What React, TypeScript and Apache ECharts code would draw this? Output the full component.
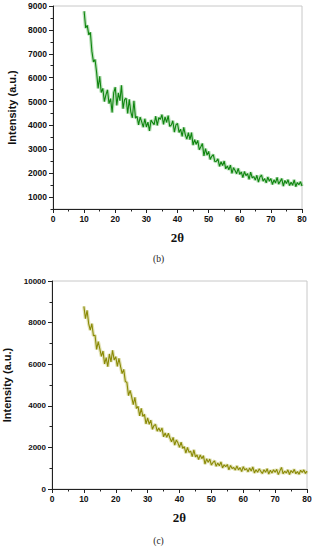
import React, { useEffect, useRef } from "react";
import * as echarts from "echarts";

// sampling grid: 2θ from 10 to 80 in 0.5° steps
const X_START = 10;
const X_STEP = 0.5;

// (b) intensity values, 2θ = 10 ... 80 step 0.5
const intensityB = [
  8780, 8080, 8190, 7790, 7900, 7100, 6660, 6760, 6230, 5550,
  6060, 5380, 5550, 5000, 5280, 5490, 4910, 5120, 4540, 5360,
  5600, 4840, 5360, 5040, 5680, 4700, 5080, 5140, 4500, 5090,
  4570, 4320, 5030, 4305, 4375, 4025, 4350, 4150, 3925, 4280,
  3935, 4140, 3770, 4225, 4115, 4030, 4385, 4000, 4325, 4255,
  4450, 4045, 4355, 4125, 4410, 3960, 4010, 4195, 3720, 4020,
  4080, 3705, 3840, 3540, 3915, 3615, 3425, 3700, 3400, 3700,
  3175, 3405, 3210, 3375, 2980, 3105, 3240, 2720, 3025, 2755,
  2910, 2574, 2704, 2773, 2485, 2503, 2599, 2287, 2478, 2319,
  2510, 2181, 2304, 2145, 2336, 1990, 2232, 2110, 1978, 2203,
  1952, 2051, 1817, 2069, 1896, 1985, 1744, 2040, 1809, 1857,
  1711, 1912, 1630, 1848, 1923, 1665, 1774, 1594, 1839, 1666,
  1775, 1527, 1721, 1592, 1820, 1543, 1657, 1771, 1460, 1693,
  1569, 1729, 1481, 1624, 1495, 1723, 1434, 1611, 1516, 1642,
  1462,
];

// (c) intensity values, 2θ = 10 ... 80 step 0.5
const intensityC = [
  8780, 8194, 8588, 7954, 7638, 7950, 7366, 7390, 6710, 7084,
  6732, 6380, 6636, 6012, 6316, 5876, 6492, 6106, 6670, 6202,
  6364, 5892, 6284, 5900, 5548, 5752, 5176, 5122, 4490, 4738,
  4426, 4054, 4410, 3870, 3974, 3518, 3874, 3494, 3590, 3126,
  3418, 3110, 3310, 2870, 3050, 3100, 2780, 2930, 2760, 2940,
  2510, 2690, 2480, 2680, 2450, 2270, 2480, 2110, 2360, 2220,
  2000, 2250, 1950, 2040, 1730, 2000, 1760, 1820, 1560, 1880,
  1540, 1640, 1420, 1640, 1460, 1600, 1200, 1450, 1280, 1440,
  1150, 1278, 1356, 1088, 1250, 1114, 1300, 1014, 1162, 1072,
  1178, 920, 1134, 988, 1034, 912, 1112, 920, 1026, 834,
  1076, 917, 982, 823, 1014, 869, 1060, 770, 928, 806,
  968, 851, 748, 925, 808, 974, 719, 899, 770, 922,
  808, 946, 692, 872, 1040, 730, 854, 769, 922, 697,
  892, 779, 946, 736, 834, 708, 904, 792, 918, 750,
  862,
];

const majorTicksB = [1000, 2000, 3000, 4000, 5000, 6000, 7000, 8000, 9000];
const captions = ["(b)", "(c)"];
const xName = "2θ";
const yName = "Intensity (a.u.)";

const toPairs = (arr: number[]) => arr.map((v, i) => [X_START + i * X_STEP, v]);

export default function App() {
  const ref = useRef<HTMLDivElement>(null);
  useEffect(() => {
    if (!ref.current) return;
    const chart = echarts.init(ref.current, undefined, { renderer: "svg" });
    const labelFont = {
      fontFamily: "Liberation Sans, Arial, sans-serif",
      fontWeight: "bold" as const,
      fontSize: 8.5,
      color: "#111",
    };
    const axisLine = { show: true, lineStyle: { color: "#222", width: 1 } };
    const xAxisBase = (gridIndex: number) => ({
      type: "value" as const,
      gridIndex,
      min: 0,
      max: 80,
      interval: 10,
      splitLine: { show: false },
      axisLine,
      axisTick: { show: true, length: 4, lineStyle: { color: "#222" } },
      minorTick: { show: true, splitNumber: 2, length: 2.5, lineStyle: { color: "#222" } },
      axisLabel: { ...labelFont, margin: 5 },
      name: xName,
      nameLocation: "middle" as const,
      nameGap: 22,
      nameTextStyle: {
        fontFamily: "Liberation Serif, Times New Roman, serif",
        fontWeight: "bold" as const,
        fontSize: 13,
        color: "#111",
      },
    });
    const yNameStyle = {
      fontFamily: "Liberation Sans, Arial, sans-serif",
      fontWeight: "bold" as const,
      fontSize: 11,
      color: "#111",
    };
    const lineSeries = (data: number[], xi: number, yi: number, color: string, halo: string) => [
      {
        type: "line",
        xAxisIndex: xi,
        yAxisIndex: yi,
        data: toPairs(data),
        showSymbol: false,
        silent: true,
        lineStyle: { color: halo, width: 3.5, opacity: 0.45 },
        itemStyle: { color: halo },
      },
      {
        type: "line",
        xAxisIndex: xi,
        yAxisIndex: yi,
        data: toPairs(data),
        showSymbol: false,
        lineStyle: { color, width: 1.1 },
        itemStyle: { color },
      },
    ];
    const caption = (text: string, x: number, y: number) => ({
      type: "text",
      x,
      y,
      style: {
        text,
        fontFamily: "Liberation Serif, Times New Roman, serif",
        fontSize: 9.5,
        fill: "#222",
        textAlign: "center",
        textVerticalAlign: "middle",
      },
    });
    chart.setOption({
      animation: false,
      grid: [
        {
          left: 53, top: 6, width: 249, height: 203,
          show: true, borderColor: "#c8c8c8", borderWidth: 1,
          containLabel: false, outerBoundsMode: "none",
        },
        {
          left: 52, top: 281, width: 255, height: 208,
          show: true, borderColor: "#c8c8c8", borderWidth: 1,
          containLabel: false, outerBoundsMode: "none",
        },
      ],
      xAxis: [xAxisBase(0), xAxisBase(1)],
      yAxis: [
        {
          type: "value",
          gridIndex: 0,
          min: 500,
          max: 9000,
          interval: 500,
          splitLine: { show: false },
          axisLine,
          axisTick: { show: true, length: 2.5, lineStyle: { color: "#222" } },
          axisLabel: {
            ...labelFont,
            margin: 6,
            formatter: (v: number) => (v % 1000 === 0 ? String(v) : ""),
          },
          name: yName,
          nameLocation: "middle",
          nameGap: 36,
          nameTextStyle: yNameStyle,
        },
        {
          type: "value",
          gridIndex: 0,
          position: "left",
          min: 500,
          max: 9000,
          interval: 500,
          splitLine: { show: false },
          axisLine: { show: false },
          axisTick: { show: true, length: 4, customValues: majorTicksB, lineStyle: { color: "#222" } },
          axisLabel: { show: false },
        },
        {
          type: "value",
          gridIndex: 1,
          min: 0,
          max: 10000,
          interval: 2000,
          splitLine: { show: false },
          axisLine,
          axisTick: { show: true, length: 4, lineStyle: { color: "#222" } },
          minorTick: { show: true, splitNumber: 2, length: 2.5, lineStyle: { color: "#222" } },
          axisLabel: { ...labelFont, fontSize: 8, margin: 6, formatter: (v: number) => String(v) },
          name: yName,
          nameLocation: "middle",
          nameGap: 35,
          nameTextStyle: yNameStyle,
        },
      ],
      series: [
        ...lineSeries(intensityB, 0, 0, "#0f850f", "#62b862"),
        ...lineSeries(intensityC, 1, 2, "#8a8a06", "#bcbc58"),
      ],
      graphic: [caption(captions[0], 158.5, 259), caption(captions[1], 158.5, 541)],
    });
    return () => chart.dispose();
  }, []);
  return (
    <div
      ref={ref}
      style={{ position: "absolute", left: 0, top: 0, width: 315, height: 550, background: "#fff" }}
    />
  );
}
